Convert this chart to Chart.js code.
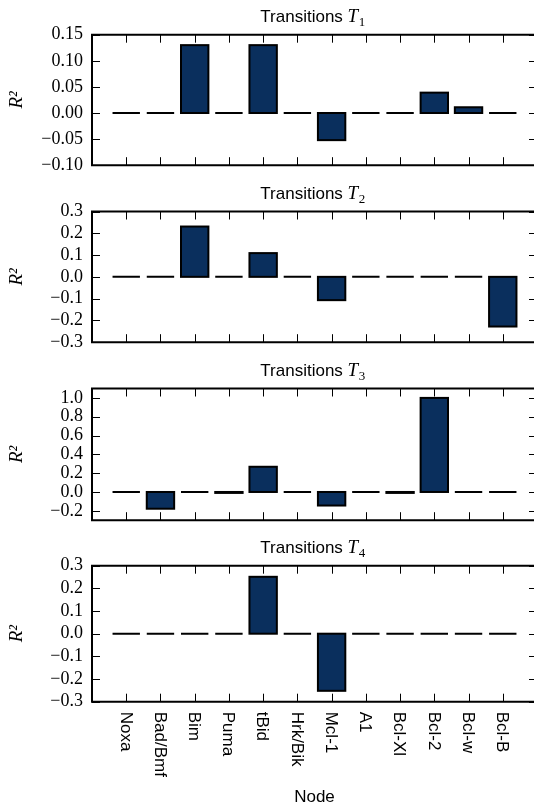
<!DOCTYPE html>
<html>
<head>
<meta charset="UTF-8">
<title>R2 per node</title>
<script src="https://cdn.jsdelivr.net/npm/chart.js@4"></script>
<style>
    html, body {
        margin: 0;
        padding: 0;
        background: #fff;
        overflow: hidden;
    }
    #wrap {
        position: relative;
        width: 534px;
        height: 807px;
        overflow: hidden;
    }
    canvas {
        position: absolute;
        left: 0;
    }
</style>
</head>
<body>
<div id="wrap">
<canvas id="c1" width="560" height="185" style="top:0px"></canvas>
<canvas id="c2" width="560" height="177" style="top:185px"></canvas>
<canvas id="c3" width="560" height="178" style="top:362px"></canvas>
<canvas id="c4" width="560" height="267" style="top:540px"></canvas>
</div>
<script>
// data
const NODES = ['Noxa', 'Bad/Bmf', 'Bim', 'Puma', 'tBid', 'Hrk/Bik', 'Mcl-1', 'A1', 'Bcl-Xl', 'Bcl-2', 'Bcl-w', 'Bcl-B'];

const R2_T1 = [0, 0, 0.130, 0, 0.130, 0, -0.052, 0, 0, 0.039, 0.011, 0];
const R2_T2 = [0, 0, 0.231, 0, 0.109, 0, -0.107, 0, 0, 0, 0, -0.228];
const R2_T3 = [0, -0.178, 0, -0.01, 0.268, 0, -0.144, 0, -0.01, 1.0, 0, 0];
const R2_T4 = [0, 0, 0, 0, 0.251, 0, -0.252, 0, 0, 0, 0, 0];

const Y_RANGE_T1 = [-0.10, 0.15];
const Y_RANGE_T2 = [-0.3, 0.3];
const Y_RANGE_T3 = [-0.3, 1.1];
const Y_RANGE_T4 = [-0.3, 0.3];

const Y_TICKS_T1 = [-0.10, -0.05, 0.00, 0.05, 0.10, 0.15];
const Y_TICKS_T2 = [-0.3, -0.2, -0.1, 0.0, 0.1, 0.2, 0.3];
const Y_TICKS_T3 = [-0.2, 0.0, 0.2, 0.4, 0.6, 0.8, 1.0];
const Y_TICKS_T4 = [-0.3, -0.2, -0.1, 0.0, 0.1, 0.2, 0.3];

const X_RANGE = [-1, 12];
const BAR_FILL = '#0a2f5d';

// frame, inward ticks, bar edges and panel titles (matplotlib classic look)
const framePlugin = {
    id: 'frame',
    afterDraw(chart, args, opts) {
        const ctx = chart.ctx;
        const a = chart.chartArea;
        const xs = chart.scales.x;
        const ys = chart.scales.y;
        ctx.save();

        // bar edges, zero bars become a flat black dash
        ctx.strokeStyle = '#000';
        ctx.lineWidth = 2;
        chart.getDatasetMeta(0).data.forEach(el => {
            const p = el.getProps(['x', 'y', 'base', 'width'], true);
            ctx.strokeRect(p.x - p.width / 2, Math.min(p.y, p.base), p.width, Math.abs(p.base - p.y));
        });

        // ticks pointing inside
        ctx.lineWidth = 1;
        ctx.beginPath();
        NODES.forEach((n, i) => {
            const px = Math.round(xs.getPixelForValue(i)) + 0.5;
            ctx.moveTo(px, a.top);
            ctx.lineTo(px, a.top + 8);
            ctx.moveTo(px, a.bottom);
            ctx.lineTo(px, a.bottom - 8);
        });
        ys.ticks.forEach(t => {
            const py = Math.round(ys.getPixelForValue(t.value)) + 0.5;
            ctx.moveTo(a.left, py);
            ctx.lineTo(a.left + 8, py);
            ctx.moveTo(a.right, py);
            ctx.lineTo(a.right - 8, py);
        });
        ctx.stroke();

        // spines: left, top, bottom (the right one lies past the page edge)
        ctx.lineWidth = 2;
        ctx.beginPath();
        ctx.moveTo(a.right, a.top);
        ctx.lineTo(a.left, a.top);
        ctx.lineTo(a.left, a.bottom);
        ctx.lineTo(a.right, a.bottom);
        ctx.stroke();

        // title "Transitions T_n"
        const cx = (a.left + a.right) / 2;
        const by = a.top - 12.5;
        const f1 = '17px "Liberation Sans"';
        const f2 = 'italic 19px "Liberation Serif"';
        const f3 = '13px "Liberation Serif"';
        ctx.fillStyle = '#000';
        ctx.textAlign = 'left';
        ctx.textBaseline = 'alphabetic';
        ctx.font = f1;
        const w1 = ctx.measureText('Transitions ').width;
        ctx.font = f2;
        const w2 = ctx.measureText('T').width;
        ctx.font = f3;
        const w3 = ctx.measureText(opts.sub).width;
        let sx = cx - (w1 + w2 + w3) / 2 - 2;
        ctx.font = f1;
        ctx.fillText('Transitions ', sx, by);
        sx += w1;
        ctx.font = f2;
        ctx.fillText('T', sx, by);
        sx += w2 + 0.5;
        ctx.font = f3;
        ctx.fillText(opts.sub, sx, by + 4);

        // node names, rotated, only under the last panel
        if (opts.xLabels) {
            ctx.font = '17px "Liberation Sans"';
            ctx.textBaseline = 'middle';
            NODES.forEach((n, i) => {
                const px = xs.getPixelForValue(i);
                ctx.save();
                ctx.translate(px - 1, a.bottom + 10);
                ctx.rotate(Math.PI / 2);
                ctx.fillText(n, 0, 0);
                ctx.restore();
            });
            ctx.textAlign = 'center';
            ctx.fillText('Node', cx, a.bottom + 96);
        }
        ctx.restore();
    }
};

function makePanel(id, values, range, ticks, decimals, sub, padTop, padBottom, xLabels) {
    const ctx = document.getElementById(id).getContext('2d');
    return new Chart(ctx, {
        type: 'bar',
        data: {
            datasets: [{
                data: NODES.map((n, i) => ({ x: i, y: values[i] })),
                backgroundColor: BAR_FILL,
                borderWidth: 0,
                barPercentage: 0.8,
                categoryPercentage: 1.0
            }]
        },
        options: {
            responsive: false,
            animation: false,
            events: [],
            layout: { padding: { top: padTop, bottom: padBottom, left: 0, right: 23 } },
            plugins: {
                legend: { display: false },
                tooltip: { enabled: false },
                frame: { sub: sub, xLabels: xLabels }
            },
            scales: {
                x: {
                    type: 'linear',
                    min: X_RANGE[0],
                    max: X_RANGE[1],
                    offset: false,
                    display: false
                },
                y: {
                    min: range[0],
                    max: range[1],
                    afterBuildTicks: s => { s.ticks = ticks.map(v => ({ value: v })); },
                    afterFit: s => { s.width = 92; },
                    grid: { display: false, drawTicks: false },
                    border: { display: false },
                    ticks: {
                        autoSkip: false,
                        padding: 9,
                        color: '#000',
                        font: { family: 'Liberation Serif', size: 18 },
                        callback: v => v.toFixed(decimals).replace('-', '\u2212')
                    },
                    title: {
                        display: true,
                        text: 'R\u00b2',
                        color: '#000',
                        font: { family: 'Liberation Serif', style: 'italic', size: 19 },
                        padding: { top: 6, bottom: 0 }
                    }
                }
            }
        },
        plugins: [framePlugin]
    });
}

makePanel('c1', R2_T1, Y_RANGE_T1, Y_TICKS_T1, 2, '1', 34.7, 13.3, false);
makePanel('c2', R2_T2, Y_RANGE_T2, Y_TICKS_T2, 1, '2', 26.5, 14, false);
makePanel('c3', R2_T3, Y_RANGE_T3, Y_TICKS_T3, 1, '3', 26.5, 15.2, false);
makePanel('c4', R2_T4, Y_RANGE_T4, Y_TICKS_T4, 1, '4', 25.7, 105.3, true);
</script>
</body>
</html>
